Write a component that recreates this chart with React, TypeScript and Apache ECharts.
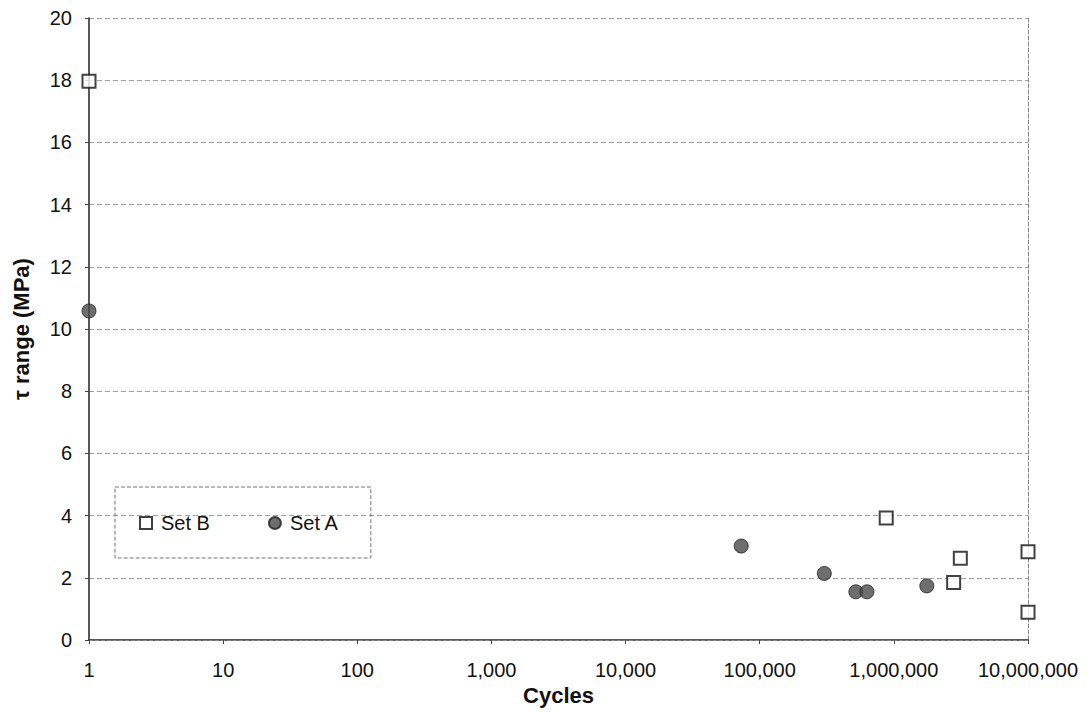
import React, { useEffect, useRef } from "react";
import * as echarts from "echarts";

const setBCycles = [1, 877000, 2790000, 3130000, 10000000, 10000000];
const setBTau = [17.97, 3.92, 1.85, 2.63, 2.84, 0.89];
const setACycles = [1, 72800, 303000, 521000, 630000, 1760000];
const setATau = [10.58, 3.02, 2.14, 1.55, 1.55, 1.74];
const yTicks = [0, 2, 4, 6, 8, 10, 12, 14, 16, 18, 20];

const fmt = (v: number) => Math.round(v).toLocaleString("en-US");

export default function App() {
  const ref = useRef<HTMLDivElement>(null);
  useEffect(() => {
    document.body.style.margin = "0";
    const chart = echarts.init(ref.current!, null, { renderer: "svg" });
    const font = "Liberation Sans, Arial, sans-serif";
    chart.setOption({
      animation: false,
      backgroundColor: "#ffffff",
      textStyle: { fontFamily: font },
      grid: { left: 89, top: 18, right: 62, bottom: 72, containLabel: false },
      legend: {
        left: 115,
        top: 487,
        orient: "horizontal",
        padding: [26, 32, 25, 24],
        itemGap: 58,
        itemWidth: 12,
        itemHeight: 12,
        borderColor: "#777",
        borderWidth: 1,
        borderType: "dashed",
        textStyle: { fontFamily: font, fontSize: 20, color: "#111", padding: [0, 0, 0, 4] },
        data: ["Set B", "Set A"],
      },
      xAxis: [
        {
          type: "log",
          logBase: 10,
          min: 1,
          max: 10000000,
          name: "Cycles",
          nameLocation: "middle",
          nameGap: 28,
          nameTextStyle: { fontFamily: font, fontSize: 22, fontWeight: "bold", color: "#111" },
          axisLine: { show: true, lineStyle: { color: "#222", width: 1.5 } },
          axisTick: { show: true, length: 4, inside: false, lineStyle: { color: "#444" } },
          axisLabel: { formatter: (v: number) => fmt(v), fontSize: 20, color: "#111", margin: 20, fontFamily: font },
          splitLine: { show: false },
          minorTick: { show: false },
        },
        {
          type: "value",
          position: "top",
          min: 0,
          max: 1,
          axisLine: { show: true, lineStyle: { color: "#888", type: "dashed", width: 1 } },
          axisTick: { show: false },
          axisLabel: { show: false },
          splitLine: { show: false },
        },
      ],
      yAxis: [
        {
          type: "value",
          min: 0,
          max: 20,
          interval: 2,
          name: "τ range (MPa)",
          nameLocation: "middle",
          nameGap: 57,
          nameRotate: 90,
          nameTextStyle: { fontFamily: font, fontSize: 22, fontWeight: "bold", color: "#111" },
          axisLine: { show: true, lineStyle: { color: "#222", width: 1.5 } },
          axisTick: { show: true, length: 4, lineStyle: { color: "#444" } },
          axisLabel: {
            fontSize: 20,
            color: "#111",
            margin: 17,
            fontFamily: font,
            formatter: (v: number) => (yTicks.includes(v) ? String(v) : ""),
          },
          splitLine: { show: true, lineStyle: { color: "#a0a0a0", type: [5, 3], width: 1 } },
        },
        {
          type: "value",
          position: "right",
          min: 0,
          max: 1,
          axisLine: { show: true, lineStyle: { color: "#888", type: "dashed", width: 1 } },
          axisTick: { show: false },
          axisLabel: { show: false },
          splitLine: { show: false },
        },
      ],
      series: [
        {
          name: "Set B",
          type: "scatter",
          symbol: "rect",
          symbolSize: 13,
          itemStyle: { color: "#ffffff", borderColor: "#111", borderWidth: 2 },
          data: setBCycles.map((c, i) => [c, setBTau[i]]),
          z: 3,
        },
        {
          name: "Set A",
          type: "scatter",
          symbol: "circle",
          symbolSize: 14,
          itemStyle: { color: "#4a4a4a", borderColor: "#222", borderWidth: 1 },
          data: setACycles.map((c, i) => [c, setATau[i]]),
          z: 3,
        },
      ],
    });
    return () => chart.dispose();
  }, []);
  return <div ref={ref} style={{ width: 1090, height: 712 }} />;
}
